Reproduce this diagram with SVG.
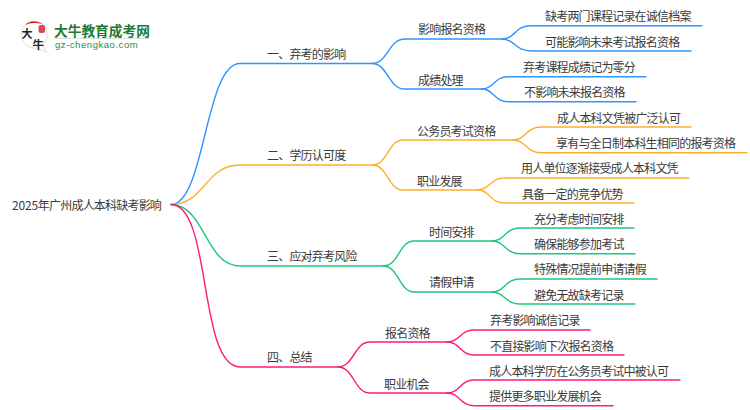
<svg xmlns="http://www.w3.org/2000/svg" width="750" height="410" viewBox="0 0 750 410">
<style>
text{font-family:"Noto Sans CJK SC","Noto Sans",sans-serif;font-size:12px;letter-spacing:-.8px;fill:#3a3a3a}
#connectors path{fill:none;stroke-width:1.4;stroke-linecap:round}
.b path{stroke:#2f95ff}.o path{stroke:#fbb02b}.g path{stroke:#1fc67c}.p path{stroke:#fb1d78}
</style>
<rect width="750" height="410" fill="#fff"/>
<g id="logo">
<path d="M35 21a13.500 13.500 0 1 0 2 26.800l10 4.700-5-7.500A13.500 13.500 0 0 0 35 21z" fill="#fff" stroke="#dcdcdc" stroke-width="1"/>
<path d="M25 25Q33 18 43 24.500Q33 21.500 25 25z" fill="#d9232e"/>
<rect x="38.500" y="25" width="6.500" height="8" rx="2" fill="#d9475a"/>
<text x="21.500" y="38" style="font-size:11px;font-weight:700;fill:#222;letter-spacing:0">大</text>
<text x="32.500" y="48.500" style="font-size:11.500px;font-weight:700;fill:#222;letter-spacing:0">牛</text>
<text x="54" y="35.500" style="font-size:13.700px;font-weight:700;fill:#1f7a34;letter-spacing:0">大牛教育成考网</text>
<rect x="54" y="38" width="96" height="1" fill="#d5e5d8"/>
<text x="55" y="48" style="font-size:9.600px;fill:#2c8a45;font-family:'Liberation Sans',sans-serif;letter-spacing:.5px">gz-chengkao.com</text>
</g>
<g id="connectors">
<g class="b">
<path d="M171 204.500C205 204.500 205 63.500 240 63.500H372C388 63.500 388 39 405 39H502"/>
<path d="M372 63.500C388 63.500 388 89 405 89H482"/>
<path d="M502 39C515 39 515 25.700 531 25.700H702"/>
<path d="M502 39C515 39 515 51 531 51H691"/>
<path d="M482 89C494 89 494 76.700 508 76.700H646"/>
<path d="M482 89C494 89 494 101.700 508 101.700H636"/>
</g>
<g class="o">
<path d="M171 204.500C205 204.500 205 165 240 165H372C388 165 388 140 403 140H513"/>
<path d="M372 165C388 165 388 190 403 190H478"/>
<path d="M513 140C526 140 526 127 541 127H691"/>
<path d="M513 140C526 140 526 152.700 541 152.700H747"/>
<path d="M478 190C490 190 490 178 504 178H689"/>
<path d="M478 190C490 190 490 203 504 203H634"/>
</g>
<g class="g">
<path d="M171 204.500C205 204.500 205 266 240 266H383C399 266 399 241 414 241H492"/>
<path d="M383 266C399 266 399 292 414 292H492"/>
<path d="M492 241C505 241 505 228 520 228H634"/>
<path d="M492 241C505 241 505 253.700 520 253.700H635"/>
<path d="M492 292C505 292 505 279 520 279H657"/>
<path d="M492 292C505 292 505 304 520 304H635"/>
</g>
<g class="p">
<path d="M171 204.500C212 204.500 198 367 240 367H338C354 367 354 342 370 342H447"/>
<path d="M338 367C354 367 354 393 370 393H447"/>
<path d="M447 342C460 342 460 330 474 330H590"/>
<path d="M447 342C460 342 460 355 474 355H624"/>
<path d="M447 393C460 393 460 380 474 380H680"/>
<path d="M447 393C460 393 460 405.700 474 405.700H613"/>
</g>
</g>
<g id="root"><text x="12" y="209.500"><tspan style="letter-spacing:-.2px">2025</tspan>年广州成人本科缺考影响</text></g>
<g id="n1"><text x="267" y="58.500">一、弃考的影响</text></g>
<g id="n2"><text x="267" y="159.500">二、学历认可度</text></g>
<g id="n3"><text x="267" y="260.500">三、应对弃考风险</text></g>
<g id="n4"><text x="267" y="361.500">四、总结</text></g>
<g id="n11"><text x="418" y="33.500">影响报名资格</text></g>
<g id="n12"><text x="418" y="84.500">成绩处理</text></g>
<g id="n21"><text x="417" y="135.500">公务员考试资格</text></g>
<g id="n22"><text x="417" y="185.500">职业发展</text></g>
<g id="n31"><text x="429" y="236.500">时间安排</text></g>
<g id="n32"><text x="429" y="286.500">请假申请</text></g>
<g id="n41"><text x="385" y="337.500">报名资格</text></g>
<g id="n42"><text x="384" y="388.500">职业机会</text></g>
<g id="l111"><text x="545" y="20.500">缺考两门课程记录在诚信档案</text></g>
<g id="l112"><text x="545" y="46.500">可能影响未来考试报名资格</text></g>
<g id="l121"><text x="523" y="71.500">弃考课程成绩记为零分</text></g>
<g id="l122"><text x="524" y="96.500">不影响未来报名资格</text></g>
<g id="l211"><text x="557" y="122.500">成人本科文凭被广泛认可</text></g>
<g id="l212"><text x="556" y="147.500">享有与全日制本科生相同的报考资格</text></g>
<g id="l221"><text x="521" y="172.500">用人单位逐渐接受成人本科文凭</text></g>
<g id="l222"><text x="522" y="198.500">具备一定的竞争优势</text></g>
<g id="l311"><text x="534" y="223.500">充分考虑时间安排</text></g>
<g id="l312"><text x="534" y="248.500">确保能够参加考试</text></g>
<g id="l321"><text x="534" y="273.500">特殊情况提前申请请假</text></g>
<g id="l322"><text x="534" y="299.500">避免无故缺考记录</text></g>
<g id="l411"><text x="490" y="324.500">弃考影响诚信记录</text></g>
<g id="l412"><text x="490" y="350.500">不直接影响下次报名资格</text></g>
<g id="l421"><text x="489" y="375.500">成人本科学历在公务员考试中被认可</text></g>
<g id="l422"><text x="489" y="400.500">提供更多职业发展机会</text></g>
</svg>
